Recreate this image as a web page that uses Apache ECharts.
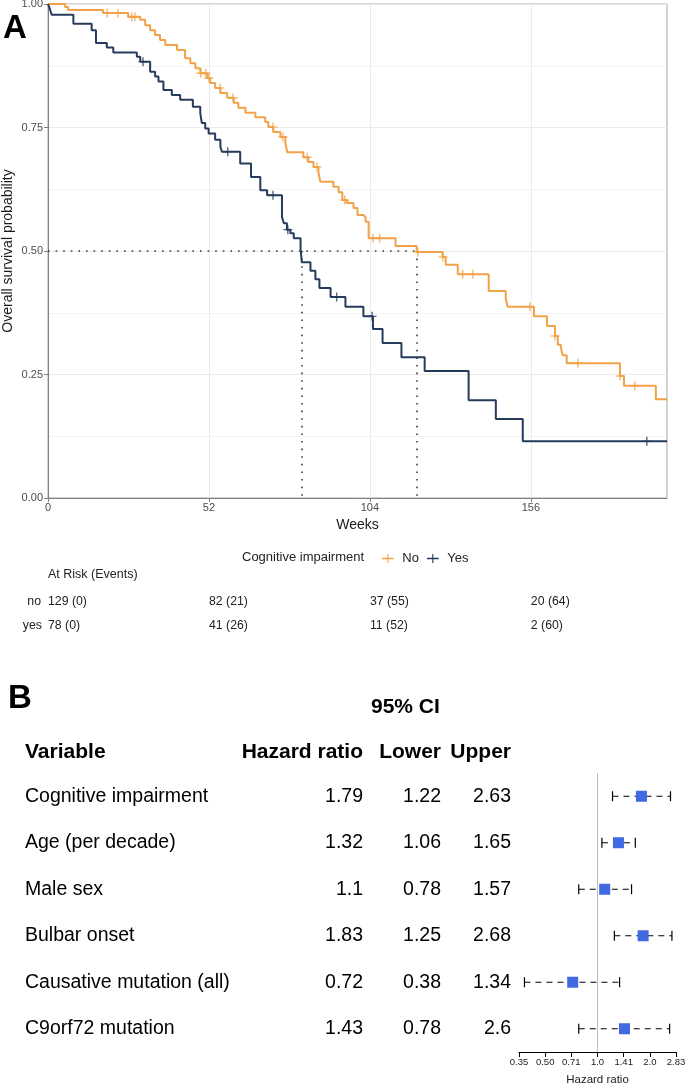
<!DOCTYPE html>
<html><head><meta charset="utf-8">
<script src="https://cdn.jsdelivr.net/npm/echarts@6/dist/echarts.min.js"></script>
<style>html,body{margin:0;padding:0;background:#fff}#c{width:685px;height:1086px}</style>
</head><body><div id="c"></div>
<script>
const FONT = '"Liberation Sans", Arial, Helvetica, sans-serif';

// ---------- Panel A: Kaplan-Meier data ----------
const noStepTimes = [5.5,6.5,17.8,25.9,29.8,31.4,33.0,34.6,36.2,37.9,41.7,44.3,46.0,47.6,49.2,51.5,52.4,54.0,55.7,57.9,60.0,61.5,63.8,67.0,70.2,71.2,72.8,75.1,76.7,77.3,82.5,84.1,85.8,87.4,88.0,92.2,93.9,95.1,96.5,98.7,100.0,101.9,102.6,103.6,112.3,119.1,127.5,128.5,132.4,142.4,147.9,148.5,157.0,161.2,163.8,164.7,165.7,166.3,167.6,184.8,186.1,196.4];
const noStepSurv  = [0.994,0.988,0.982,0.974,0.968,0.957,0.947,0.937,0.927,0.917,0.907,0.89,0.88,0.87,0.86,0.85,0.84,0.83,0.82,0.81,0.80,0.79,0.78,0.771,0.761,0.751,0.741,0.731,0.718,0.70,0.69,0.68,0.67,0.658,0.64,0.63,0.619,0.603,0.597,0.587,0.573,0.569,0.559,0.526,0.51,0.498,0.488,0.472,0.453,0.419,0.403,0.387,0.368,0.348,0.328,0.31,0.304,0.289,0.273,0.247,0.227,0.20];
const noCensorTimes = [19.1,22.6,27.1,28.1,49.4,51.0,52.0,55.6,59.8,72.7,75.9,83.7,86.9,95.9,105.0,107.2,119.5,127.6,134.0,137.3,155.7,163.8,171.2,184.8,189.6];

const yesStepTimes = [0.6,1.2,8.2,14.1,15.5,19.0,21.1,28.7,29.8,33.0,34.6,35.7,37.3,40.0,42.7,46.8,49.2,49.7,50.8,51.9,54.0,55.7,56.2,62.1,65.6,68.6,70.8,75.6,76.2,77.2,78.3,79.4,81.6,82.0,84.8,86.4,87.7,91.3,96.1,101.9,105.0,108.1,114.2,121.7,135.9,144.7,153.4];
const yesStepSurv  = [0.99,0.978,0.96,0.947,0.921,0.912,0.902,0.893,0.883,0.863,0.853,0.843,0.826,0.816,0.806,0.792,0.779,0.759,0.748,0.738,0.725,0.711,0.701,0.677,0.65,0.623,0.613,0.569,0.556,0.543,0.536,0.526,0.505,0.477,0.46,0.443,0.425,0.407,0.387,0.368,0.342,0.314,0.285,0.257,0.198,0.16,0.115];
const yesCensorTimes = [30.7,58.1,72.7,77.5,93.3,104.7,193.5];

const kmMaxWeek = 200;
const weekTicks = [0,52,104,156];

// Risk table
const riskTimes = [0,52,104,156];
const noAtRisk  = [129,82,37,20];
const noEvents  = [0,21,55,64];
const yesAtRisk = [78,41,11,2];
const yesEvents = [0,26,52,60];

// ---------- Panel B: Forest plot data ----------
const variables   = ['Cognitive impairment','Age (per decade)','Male sex','Bulbar onset','Causative mutation (all)','C9orf72 mutation'];
const hazardRatio = [1.79,1.32,1.1,1.83,0.72,1.43];
const lowerCI     = [1.22,1.06,0.78,1.25,0.38,0.78];
const upperCI     = [2.63,1.65,1.57,2.68,1.34,2.6];
const hrTickLabels = ['0.35','0.50','0.71','1.0','1.41','2.0','2.83'];

const ORANGE = '#F2A246';
const NAVY = '#263B5C';

function stepPoints(times, surv){
  const pts = [[0,1]];
  times.forEach((t,i)=>pts.push([t,surv[i]]));
  pts.push([kmMaxWeek, surv[surv.length-1]]);
  return pts;
}
function survAt(times, surv, t){
  let s = 1;
  for (let i=0;i<times.length;i++){ if (times[i] <= t) s = surv[i]; }
  return s;
}
function medianOf(times, surv){
  for (let i=0;i<times.length;i++){ if (surv[i] <= 0.5) return times[i]; }
  return null;
}
const noMedian = medianOf(noStepTimes, noStepSurv);
const yesMedian = medianOf(yesStepTimes, yesStepSurv);

const censorSym = 'path://M0,4.4H10V5.6H0Z M4.4,0H5.6V10H4.4Z';
const legendIcon = 'path://M0,4.1H13V5.9H0Z M5.9,0H7.1V10H5.9Z';

const chart = echarts.init(document.getElementById('c'), null, {renderer:'canvas'});

const option = {
  backgroundColor:'#fff',
  animation:false,
  textStyle:{fontFamily:FONT},
  legend:{
    left:377, top:547, itemWidth:13, itemHeight:9, itemGap:8, selectedMode:false,
    data:[{name:'No', icon:legendIcon},{name:'Yes', icon:legendIcon}],
    textStyle:{fontSize:13, color:'#222', fontFamily:FONT, padding:[0,0,0,3]}
  },
  grid:[
    {left:48, right:18, top:4, bottom:588, containLabel:false, outerBoundsMode:'none',
     show:true, borderColor:'#A6A6A6', borderWidth:1, backgroundColor:'transparent'},
    {left:519, right:9, top:773, bottom:34, containLabel:false, outerBoundsMode:'none', show:false}
  ],
  xAxis:[
    {type:'value', gridIndex:0, min:0, max:kmMaxWeek, interval:52,
     name:'Weeks', nameLocation:'middle', nameGap:20, nameMoveOverlap:false,
     nameTextStyle:{fontSize:14, color:'#1a1a1a', fontFamily:FONT},
     axisLine:{show:true, lineStyle:{color:'#808080', width:1}},
     axisTick:{show:true, length:4, lineStyle:{color:'#808080'}, customValues:weekTicks},
     axisLabel:{fontSize:11, color:'#4D4D4D', margin:4, fontFamily:FONT, customValues:weekTicks},
     splitLine:{show:true, lineStyle:{color:'#EBEBEB', width:1}},
     minorSplitLine:{show:false}
    },
    {type:'value', gridIndex:1, min:-1.5, max:1.5, interval:0.5,
     name:'Hazard ratio', nameLocation:'middle', nameGap:22, nameMoveOverlap:false,
     nameTextStyle:{fontSize:11.5, color:'#222', fontFamily:FONT},
     axisLine:{show:true, lineStyle:{color:'#000', width:1}},
     axisTick:{show:true, length:5, lineStyle:{color:'#000'}},
     axisLabel:{fontSize:9.5, color:'#222', margin:5, fontFamily:FONT,
       formatter:(v)=>hrTickLabels[Math.round((v+1.5)/0.5)]},
     splitLine:{show:false}
    }
  ],
  yAxis:[
    {type:'value', gridIndex:0, min:0, max:1, interval:0.25,
     name:'Overall survival probability', nameLocation:'middle', nameGap:33, nameMoveOverlap:false,
     nameTextStyle:{fontSize:14, color:'#1a1a1a', fontFamily:FONT},
     axisLine:{show:true, lineStyle:{color:'#808080', width:1}},
     axisTick:{show:true, length:4, lineStyle:{color:'#808080'}},
     axisLabel:{fontSize:11, color:'#4D4D4D', margin:5, fontFamily:FONT, formatter:(v)=>v.toFixed(2)},
     splitLine:{show:true, lineStyle:{color:'#EBEBEB', width:1}},
     minorTick:{show:false, splitNumber:2},
     minorSplitLine:{show:true, lineStyle:{color:'#F4F4F4', width:1}}
    },
    {type:'category', gridIndex:1, data:variables, inverse:true, show:false, boundaryGap:true}
  ],
  series:[
    {name:'No', type:'line', xAxisIndex:0, yAxisIndex:0, step:'end', showSymbol:false, z:3,
     data:stepPoints(noStepTimes,noStepSurv), color:ORANGE, lineStyle:{color:ORANGE, width:2},
     markLine:{silent:true, symbol:['none','none'], label:{show:false}, z:2,
       lineStyle:{color:'#3a3a3a', width:1.6, type:[1.6,6]},
       data:[
         [{coord:[0,0.5]},{coord:[noMedian,0.5]}],
         [{coord:[yesMedian,0.5]},{coord:[yesMedian,0]}],
         [{coord:[noMedian,0.5]},{coord:[noMedian,0]}]
       ]}
    },
    {name:'Yes', type:'line', xAxisIndex:0, yAxisIndex:0, step:'end', showSymbol:false, z:4,
     data:stepPoints(yesStepTimes,yesStepSurv), color:NAVY, lineStyle:{color:NAVY, width:2}},
    {name:'No', type:'scatter', xAxisIndex:0, yAxisIndex:0, symbol:censorSym, symbolSize:9, z:5,
     itemStyle:{color:ORANGE, opacity:1},
     data:noCensorTimes.map(t=>[t, survAt(noStepTimes,noStepSurv,t)])},
    {name:'Yes', type:'scatter', xAxisIndex:0, yAxisIndex:0, symbol:censorSym, symbolSize:9, z:5,
     itemStyle:{color:NAVY, opacity:1},
     data:yesCensorTimes.map(t=>[t, survAt(yesStepTimes,yesStepSurv,t)])},
    {name:'CI', type:'custom', xAxisIndex:1, yAxisIndex:1, z:3,
     encode:{x:[1,2], y:0},
     data:variables.map((v,i)=>[i, Math.log2(lowerCI[i]), Math.log2(upperCI[i])]),
     renderItem:function(params, api){
       const r = api.value(0);
       const lo = api.coord([api.value(1), r]);
       const hi = api.coord([api.value(2), r]);
       const cap = 5;
       const st = {stroke:'#000', lineWidth:1.2};
       return {type:'group', children:[
         {type:'line', shape:{x1:lo[0],y1:lo[1],x2:hi[0],y2:hi[1]}, style:{stroke:'#000', lineWidth:1.2, lineDash:[6,5]}},
         {type:'line', shape:{x1:lo[0],y1:lo[1]-cap,x2:lo[0],y2:lo[1]+cap}, style:st},
         {type:'line', shape:{x1:hi[0],y1:hi[1]-cap,x2:hi[0],y2:hi[1]+cap}, style:st}
       ]};
     }
    },
    {name:'HR', type:'scatter', xAxisIndex:1, yAxisIndex:1, symbol:'rect', symbolSize:11, z:5,
     itemStyle:{color:'#4169E1', opacity:1},
     data:hazardRatio.map((h,i)=>[Math.log2(h), i]),
     markLine:{silent:true, symbol:['none','none'], label:{show:false}, z:1,
       lineStyle:{color:'#BDBDBD', width:1, type:'solid'},
       data:[{xAxis:0}]}
    }
  ]
};
chart.setOption(option);

// ---------- text layers positioned from the axes ----------
function txt(x, y, text, o){
  return {type:'text', x:x, y:y, silent:true, z:10,
    style:Object.assign({text:text, fontFamily:FONT, fontSize:12, fill:'#000', align:'left', verticalAlign:'middle'}, o||{})};
}
const g = [];
g.push(txt(3, 29, 'A', {fontSize:33, fontWeight:'bold'}));
g.push(txt(242, 557, 'Cognitive impairment', {fontSize:13, fill:'#222'}));
g.push(txt(48, 575, 'At Risk (Events)', {fontSize:12.5, fill:'#222'}));
g.push(txt(41, 602, 'no', {fontSize:12.3, fill:'#222', align:'right'}));
g.push(txt(42, 626, 'yes', {fontSize:12.3, fill:'#222', align:'right'}));
riskTimes.forEach((t,i)=>{
  const x = chart.convertToPixel({xAxisIndex:0}, t);
  g.push(txt(x, 602, noAtRisk[i] + ' (' + noEvents[i] + ')', {fontSize:12.3, fill:'#222'}));
  g.push(txt(x, 626, yesAtRisk[i] + ' (' + yesEvents[i] + ')', {fontSize:12.3, fill:'#222'}));
});

g.push(txt(8, 699, 'B', {fontSize:33, fontWeight:'bold'}));
g.push(txt(371, 707, '95% CI', {fontSize:21, fontWeight:'bold'}));
const colVarX = 25, colHRX = 363, colLoX = 441, colUpX = 511;
g.push(txt(colVarX, 752, 'Variable', {fontSize:21, fontWeight:'bold'}));
g.push(txt(colHRX, 752, 'Hazard ratio', {fontSize:21, fontWeight:'bold', align:'right'}));
g.push(txt(colLoX, 752, 'Lower', {fontSize:21, fontWeight:'bold', align:'right'}));
g.push(txt(colUpX, 752, 'Upper', {fontSize:21, fontWeight:'bold', align:'right'}));
variables.forEach((v,i)=>{
  const y = chart.convertToPixel({yAxisIndex:1}, v);
  g.push(txt(colVarX, y, v, {fontSize:19.5}));
  g.push(txt(colHRX, y, String(hazardRatio[i]), {fontSize:19.5, align:'right'}));
  g.push(txt(colLoX, y, String(lowerCI[i]), {fontSize:19.5, align:'right'}));
  g.push(txt(colUpX, y, String(upperCI[i]), {fontSize:19.5, align:'right'}));
});
chart.setOption({graphic:g});
</script>
</body></html>
